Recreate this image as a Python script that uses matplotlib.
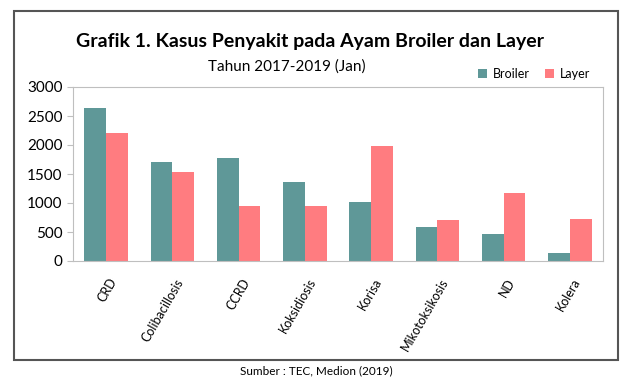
import matplotlib.pyplot as plt
import numpy as np
from matplotlib.patches import Rectangle

plt.rcParams['font.family'] = ['Lato', 'DejaVu Sans']

penyakit = ["CRD", "Colibacillosis", "CCRD", "Koksidiosis", "Korisa",
            "Mikotoksikosis", "ND", "Kolera"]
broiler = [2630, 1700, 1770, 1355, 1020, 585, 465, 145]
layer = [2210, 1540, 950, 950, 1980, 700, 1165, 720]

c_broiler = "#5f9898"
c_layer = "#ff7c80"

fig = plt.figure(figsize=(6.33, 3.81), dpi=100)
ax = fig.add_axes([73 / 633, 1 - 261 / 381, 530 / 633, 174 / 381])

x = np.arange(len(penyakit))
w = 0.33
ax.bar(x - w / 2, broiler, w, color=c_broiler, label="Broiler")
ax.bar(x + w / 2, layer, w, color=c_layer, label="Layer")

ax.set_xlim(-0.5, len(penyakit) - 0.5)
ax.set_ylim(0, 3000)
ax.set_yticks(range(0, 3001, 500))
ax.set_xticks(x + 0.04)
ax.set_xticklabels(penyakit, rotation=60, ha="right", rotation_mode="anchor",
                   fontsize=9)
ax.tick_params(axis="x", length=0, pad=11)
ax.tick_params(axis="y", labelsize=11, length=4, color="#bfbfbf")
for s in ax.spines.values():
    s.set_color("#bfbfbf")

fig.text(0.49, 1 - 42 / 381, "Grafik 1. Kasus Penyakit pada Ayam Broiler dan Layer",
         ha="center", va="center", fontsize=14, fontweight="bold")
fig.text(287 / 633, 1 - 67 / 381, "Tahun 2017-2019 (Jan)", ha="center",
         va="center", fontsize=11)
ax.legend(loc="lower right", bbox_to_anchor=(0.99, 1.0), ncol=2, frameon=False,
          fontsize=9, handlelength=0.7, handleheight=0.7, columnspacing=1.2,
          handletextpad=0.5, borderaxespad=0.2)

fig.patches.append(Rectangle((14 / 633, 1 - 360 / 381), 604 / 633, 349 / 381,
                             transform=fig.transFigure, fill=False,
                             edgecolor="#555555", linewidth=1.5))
fig.text(316 / 633, 1 - 371 / 381, "Sumber : TEC, Medion (2019)", ha="center",
         va="center", fontsize=8.5)

fig.savefig("out.png", dpi=100)
